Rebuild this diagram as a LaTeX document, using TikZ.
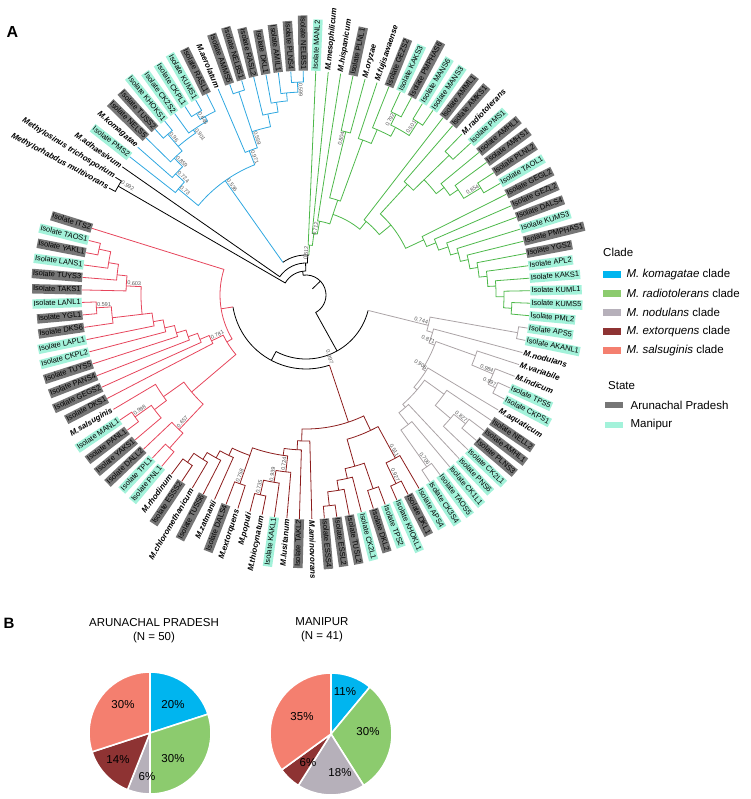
\documentclass[tikz,border=0pt]{standalone}
\usepackage{fontspec}
\setmainfont{Liberation Sans}
\usetikzlibrary{positioning}

\definecolor{cKom}{HTML}{2EA7E0}
\definecolor{cRad}{HTML}{4DB84A}
\definecolor{cNod}{HTML}{ABA3A6}
\definecolor{cExt}{HTML}{8C1D1D}
\definecolor{cSal}{HTML}{E6455C}
\definecolor{pKom}{HTML}{00B5EF}
\definecolor{pRad}{HTML}{8CCB6E}
\definecolor{pNod}{HTML}{B6B0BA}
\definecolor{pExt}{HTML}{8E3333}
\definecolor{pSal}{HTML}{F47F6F}
\definecolor{boxAP}{HTML}{767676}
\definecolor{boxMN}{HTML}{A3F2DA}
\definecolor{bsGray}{HTML}{555555}

% leaf radius, leaf i sits at angle 151.5-3.2*i
\newcommand{\Rl}{224}
% binary node: colour, radius, child A (index, radius), child B (index, radius)
\newcommand{\nd}[6]{%
  \edef\aA{\fpeval{151.5-3.2*(#3)}}\edef\aB{\fpeval{151.5-3.2*(#5)}}%
  \draw[#1] (\aA:#4) -- (\aA:#2) arc[start angle=\aA, end angle=\aB, radius=#2] -- (\aB:#6);}
\newcommand{\rd}[4]{%
  \edef\aA{\fpeval{151.5-3.2*(#2)}}\draw[#1] (\aA:#3) -- (\aA:#4);}
\newcommand{\ac}[4]{%
  \edef\aA{\fpeval{151.5-3.2*(#3)}}\edef\aB{\fpeval{151.5-3.2*(#4)}}%
  \draw[#1] (\aA:#2) arc[start angle=\aA, end angle=\aB, radius=#2];}
% leaf label
\newcommand{\lf}[3]{%
  \edef\ang{\fpeval{151.5-3.2*(#1)}}\edef\rot{\fpeval{151.5-3.2*(#1)+180}}%
  \ifdim\fpeval{abs(\ang)}pt>90pt
    \node[#2, anchor=east, rotate=\rot] (t#1) at (\ang:\Rl) {#3};
  \else
    \node[#2, anchor=west, rotate=\ang] (t#1) at (\ang:\Rl) {#3};
  \fi}
% bootstrap value
\newcommand{\bs}[3]{%
  \edef\ang{\fpeval{151.5-3.2*(#1)}}\edef\rot{\fpeval{151.5-3.2*(#1)+180}}%
  \ifdim\fpeval{abs(\ang)}pt>90pt
    \node[boot, anchor=south west, rotate=\rot] at (\ang:#2) {#3};
  \else
    \node[boot, anchor=south east, rotate=\ang] at (\ang:#2) {#3};
  \fi}

\tikzset{
  lblk/.style={draw=black},
  lkom/.style={draw=cKom},
  lrad/.style={draw=cRad},
  lnod/.style={draw=cNod},
  lext/.style={draw=cExt},
  lsal/.style={draw=cSal},
  ap/.style={fill=boxAP, inner sep=1.1pt, text height=5.6pt, text depth=1.6pt, font=\fontsize{7.5}{8}\selectfont},
  mn/.style={ap, fill=boxMN},
  sp/.style={inner sep=1.1pt, font=\fontsize{8}{9}\selectfont\bfseries\itshape},
  boot/.style={inner sep=0.6pt, text=bsGray, font=\fontsize{5.5}{6}\selectfont},
  leg/.style={inner sep=0pt, font=\fontsize{11.5}{14}\selectfont},
  swatch/.style={minimum width=18pt, minimum height=6.5pt, inner sep=0pt},
  wedge/.style={draw=white, line width=1.6pt, line join=round}
}

\begin{document}
\begin{tikzpicture}[x=1pt, y=1pt]
\useasboundingbox (0,0) rectangle (750,-799);

\node[font=\fontsize{16}{18}\selectfont\bfseries] (pA) at (12.5,-32.5) {A};
\node[font=\fontsize{15}{18}\selectfont\bfseries] (pB) at (9,-623) {B};

% ---- tree
\begin{scope}[shift={(306,-295)}, line width=0.8pt]
  % backbone
  \rd{lblk}{33.6}{9}{20}
  \nd{lblk}{20}{16.7}{24}{66.4}{64}
  \nd{lblk}{24}{0.5}{217}{19}{32}
  \nd{lblk}{217}{0}{\Rl}{1}{\Rl}
  \nd{lblk}{32}{2}{\Rl}{20}{40}
  \ac{lblk}{40}{8.2}{20.5}
  \rd{lkom}{8.2}{40}{140}
  \rd{lrad}{20.5}{40}{50}
  \ac{lblk}{64}{51.7}{84.2}
  \rd{lnod}{51.7}{64}{126}
  \rd{lblk}{84.2}{64}{74}
  \ac{lblk}{74}{69.7}{100.7}
  \rd{lext}{69.7}{74}{134}
  \rd{lsal}{100.7}{74}{86}

  % komagatae clade
  \nd{lkom}{140}{3.5}{166}{12.5}{155}
  \nd{lkom}{166}{3}{\Rl}{4.5}{178}
  \nd{lkom}{178}{4}{\Rl}{5.5}{190}
  \nd{lkom}{190}{5}{\Rl}{6.5}{196}
  \nd{lkom}{196}{6.5}{212}{8.5}{200}
  \nd{lkom}{212}{6}{\Rl}{7}{\Rl}
  \nd{lkom}{200}{8}{\Rl}{10}{205}
  \nd{lkom}{205}{9.5}{212}{11}{\Rl}
  \nd{lkom}{212}{9}{\Rl}{10}{\Rl}
  \nd{lkom}{155}{12}{\Rl}{13.5}{172}
  \nd{lkom}{172}{13.5}{214}{15.5}{185}
  \nd{lkom}{214}{13}{\Rl}{14}{\Rl}
  \nd{lkom}{185}{15}{\Rl}{16.5}{195}
  \nd{lkom}{195}{16}{\Rl}{17.5}{203}
  \nd{lkom}{203}{17}{\Rl}{18.5}{213}
  \nd{lkom}{213}{18}{\Rl}{19}{\Rl}

  % radiotolerans clade
  \nd{lrad}{50}{20}{\Rl}{21.5}{62}
  \nd{lrad}{62}{21}{\Rl}{22.5}{75}
  \nd{lrad}{75}{22}{\Rl}{25}{85}
  \nd{lrad}{85}{25}{100}{31.5}{95}
  \nd{lrad}{100}{23.5}{168}{25.5}{165}
  \nd{lrad}{168}{23}{\Rl}{24}{\Rl}
  \nd{lrad}{165}{25}{\Rl}{26.5}{180}
  \nd{lrad}{180}{26}{\Rl}{28}{190}
  \nd{lrad}{190}{27.5}{202}{29.5}{206}
  \nd{lrad}{202}{27}{\Rl}{28}{\Rl}
  \nd{lrad}{206}{29}{\Rl}{30}{\Rl}
  \nd{lrad}{95}{31}{\Rl}{35}{110}
  \nd{lrad}{110}{32.5}{150}{39.5}{130}
  \nd{lrad}{150}{32}{\Rl}{33.5}{165}
  \nd{lrad}{165}{33.5}{200}{35.5}{175}
  \nd{lrad}{200}{33}{\Rl}{34}{\Rl}
  \nd{lrad}{175}{35}{\Rl}{36.5}{185}
  \nd{lrad}{185}{36}{\Rl}{37.5}{205}
  \nd{lrad}{205}{37}{\Rl}{38}{\Rl}
  \foreach \k/\r/\q in {39/130/140,40/140/150,41/150/158,42/158/166,43/166/174,
                        44/174/182,45/182/190,46/190/198,47/198/206}
    {\nd{lrad}{\r}{\k}{\Rl}{\k+1.5}{\q}}
  \nd{lrad}{206}{48}{\Rl}{49}{\Rl}

  % nodulans clade
  \nd{lnod}{126}{50.5}{215}{52.5}{132}
  \nd{lnod}{215}{50}{\Rl}{51}{\Rl}
  \nd{lnod}{132}{52}{\Rl}{54}{138}
  \nd{lnod}{138}{53.5}{180}{57.5}{142}
  \nd{lnod}{180}{53}{\Rl}{54.5}{203}
  \nd{lnod}{203}{54}{\Rl}{55.5}{211}
  \nd{lnod}{211}{55}{\Rl}{56}{\Rl}
  \nd{lnod}{142}{57}{\Rl}{60}{146}
  \nd{lnod}{146}{58.5}{170}{62.5}{150}
  \nd{lnod}{170}{58}{\Rl}{60}{190}
  \nd{lnod}{190}{59.5}{205}{61}{\Rl}
  \nd{lnod}{205}{59}{\Rl}{60}{\Rl}
  \nd{lnod}{150}{62}{\Rl}{63.5}{165}
  \nd{lnod}{165}{63}{\Rl}{64.5}{210}
  \nd{lnod}{210}{64}{\Rl}{65}{\Rl}

  % extorquens clade
  \nd{lext}{134}{67.5}{150}{76}{146}
  \nd{lext}{150}{66.5}{186}{70.5}{178}
  \nd{lext}{186}{66}{\Rl}{67.5}{209}
  \nd{lext}{209}{67}{\Rl}{68}{\Rl}
  \nd{lext}{178}{69.5}{205}{71.5}{188}
  \nd{lext}{205}{69}{\Rl}{70}{\Rl}
  \nd{lext}{188}{71}{\Rl}{72.5}{198}
  \nd{lext}{198}{72}{\Rl}{73.5}{212}
  \nd{lext}{212}{73}{\Rl}{74}{\Rl}
  \nd{lext}{146}{75}{\Rl}{76.5}{155}
  \nd{lext}{155}{76}{\Rl}{78}{162}
  \nd{lext}{162}{77.5}{178}{81.5}{170}
  \nd{lext}{178}{77}{\Rl}{78.5}{190}
  \nd{lext}{190}{78}{\Rl}{79.5}{205}
  \nd{lext}{205}{79}{\Rl}{80}{\Rl}
  \nd{lext}{170}{81.5}{200}{83.5}{178}
  \nd{lext}{200}{81}{\Rl}{82}{\Rl}
  \foreach \k/\r/\q in {83/178/186,84/186/194,85/194/205}
    {\nd{lext}{\r}{\k}{\Rl}{\k+1.5}{\q}}
  \nd{lext}{205}{86}{\Rl}{87}{\Rl}

  % salsuginis clade
  \nd{lsal}{86}{94}{92}{109}{\Rl}
  \nd{lsal}{92}{91}{150}{95.5}{105}
  \nd{lsal}{150}{89}{185}{92.5}{175}
  \nd{lsal}{185}{88.5}{205}{90}{\Rl}
  \nd{lsal}{205}{88}{\Rl}{89}{\Rl}
  \nd{lsal}{175}{92}{190}{94}{\Rl}
  \nd{lsal}{190}{91}{\Rl}{92.5}{210}
  \nd{lsal}{210}{92}{\Rl}{93}{\Rl}
  \foreach \k/\r/\q in {95/105/115,96/115/125,97/125/135,98/135/145,99/145/155,100/155/165}
    {\nd{lsal}{\r}{\k}{\Rl}{\k+1.5}{\q}}
  \nd{lsal}{165}{101.5}{195}{104.5}{180}
  \nd{lsal}{195}{101}{\Rl}{102.5}{210}
  \nd{lsal}{210}{102}{\Rl}{103}{\Rl}
  \foreach \k/\r/\q in {104/180/190,105/190/200,106/200/212}
    {\nd{lsal}{\r}{\k}{\Rl}{\k+1.5}{\q}}
  \nd{lsal}{212}{107}{\Rl}{108}{\Rl}

  % bootstrap values
  \bs{0.7}{217}{0.992}
  \bs{3.5}{166}{0.73}   \bs{4.5}{178}{0.724}  \bs{5.5}{190}{0.859}
  \bs{6.5}{212}{0.96}   \bs{8.5}{200}{0.901}  \bs{9.5}{212}{0.645}
  \bs{8.2}{140}{0.536}  \bs{12.5}{155}{0.971} \bs{13.5}{172}{0.559}
  \bs{18.5}{213}{0.599}
  \bs{20.5}{50}{0.512}  \bs{22.5}{75}{0.712}  \bs{23.5}{168}{0.804}
  \bs{27.5}{202}{0.792} \bs{29.5}{206}{0.501} \bs{37.5}{205}{0.854}
  \bs{51.7}{126}{0.744} \bs{54}{138}{0.871}   \bs{57.5}{142}{0.906}
  \bs{54.5}{203}{0.984} \bs{55.5}{211}{0.997} \bs{59.5}{205}{0.827}
  \bs{64.5}{210}{0.706}
  \bs{69.7}{74}{0.997}
  \bs{66.5}{186}{0.511} \bs{67.5}{209}{0.927} \bs{77.5}{178}{0.724}
  \bs{78.5}{190}{0.939} \bs{79.5}{205}{0.735} \bs{81.5}{200}{0.758}
  \bs{89}{185}{0.657}   \bs{92.5}{210}{0.998} \bs{95.5}{105}{0.781}
  \bs{102.5}{210}{0.591} \bs{104.5}{180}{0.603}

  % leaves
  \foreach \n/\sty/\lab in {
    0/sp/Methylorhabdus multivorans, 1/sp/Methylosinus trichosporium,
    2/sp/M.adhaesivum, 3/mn/Isolate PMS2, 4/sp/M.komagatae, 5/ap/Isolate NELS5,
    6/ap/Isolate TUSS2, 7/mn/Isolate KHOKS1, 8/mn/Isolate CK2S2, 9/mn/Isolate CKPL1,
    10/mn/Isolate KUMS1, 11/ap/Isolate RASL1, 12/sp/M.aerolatum, 13/ap/Isolate AMMS5,
    14/ap/Isolate NELBS1, 15/ap/Isolate RASL2, 16/ap/Isolate DKL1, 17/ap/Isolate AMIL1,
    18/ap/Isolate PLNS4, 19/ap/Isolate NELBS1,
    20/mn/Isolate MANL2, 21/sp/M.mesophilicum, 22/sp/M.hispanicum, 23/ap/Isolate PLNL1,
    24/sp/M.oryzae, 25/sp/M.fujisawaense, 26/ap/Isolate GEZS2, 27/mn/Isolate KAKS3,
    28/ap/Isolate PMPHAS6, 29/mn/Isolate MANS6, 30/mn/Isolate MANS3, 31/ap/Isolate AMML1,
    32/ap/Isolate AMKS1, 33/sp/M.radiotolerans, 34/mn/Isolate PMS1, 35/ap/Isolate AMHL1,
    36/ap/Isolate AMHS1, 37/ap/Isolate PLNL2, 38/mn/Isolate TAOL1, 39/ap/Isolate GEGL2,
    40/ap/Isolate GEZL2, 41/ap/Isolate DALS4, 42/mn/Isolate KUMS3, 43/ap/Isolate PMPHAS1,
    44/ap/Isolate YGS2, 45/mn/Isolate APL2, 46/mn/Isolate KAKS1, 47/mn/Isolate KUML1,
    48/mn/Isolate KUMS5, 49/mn/Isolate PML2,
    50/mn/Isolate APS5, 51/mn/Isolate AKANL1, 52/sp/M.nodulans, 53/sp/M.variabile,
    54/sp/M.indicum, 55/mn/Isolate TPS5, 56/mn/Isolate CKPS1, 57/sp/M.aquaticum,
    58/ap/Isolate NELL2, 59/ap/Isolate AMHL1, 60/ap/Isolate PLNS3, 61/mn/Isolate CK2L1,
    62/mn/Isolate PNS6, 63/mn/Isolate CK1L1, 64/mn/Isolate TAOS5, 65/mn/Isolate CK3S4,
    66/mn/Isolate APS4, 67/ap/Isolate DKL1, 68/mn/Isolate KHOKL1, 69/mn/Isolate TPS2,
    70/ap/Isolate DKL2, 71/mn/Isolate CK2L1, 72/ap/Isolate TUSL2, 73/ap/Isolate ESSL2,
    74/ap/Isolate ESSS4, 75/sp/M.aminovorans, 76/ap/Isolate TAKL2, 77/sp/M.lusitanum,
    78/mn/Isolate KAKL1, 79/sp/M.thiocynatum, 80/sp/M.populi, 81/sp/M.extorquens,
    82/ap/Isolate DALS4, 83/sp/M.zatmanii, 84/ap/Isolate TUSS6, 85/sp/M.chloromethanicum,
    86/ap/Isolate ESSS2, 87/sp/M.rhodinum,
    88/mn/Isolate PNL1, 89/mn/Isolate TPL1, 90/ap/Isolate DALL2, 91/ap/Isolate YAKS1,
    92/ap/Isolate PANL1, 93/mn/Isolate MANL1, 94/sp/M.salsuginis, 95/ap/Isolate DKS1,
    96/ap/Isolate GEGS2, 97/ap/Isolate PANS4, 98/ap/Isolate TUYS5, 99/mn/Isolate CKPL2,
    100/mn/Isolate LAPL1, 101/ap/Isolate DKS6, 102/ap/Isolate YGL1, 103/mn/Isolate LANL1,
    104/ap/Isolate TAKS1, 105/ap/Isolate TUYS3, 106/mn/Isolate LANS1, 107/ap/Isolate YAKL1,
    108/mn/Isolate TAOS1, 109/ap/Isolate ITS2}
    {\lf{\n}{\sty}{\lab}}
\end{scope}

% ---- legend
\node[leg, anchor=west] (clade) at (603,-252) {Clade};
\node[swatch, fill=pKom, anchor=west] (k1) at (603,-274.3) {};
\node[leg, right=5pt of k1] (lk1) {\textit{M. komagatae} clade};
\node[swatch, fill=pRad, anchor=west] (k2) at (603,-293.3) {};
\node[leg, right=5pt of k2] (lk2) {\textit{M. radiotolerans} clade};
\node[swatch, fill=pNod, anchor=west] (k3) at (603,-312.7) {};
\node[leg, right=5pt of k3] (lk3) {\textit{M. nodulans} clade};
\node[swatch, fill=pExt, anchor=west] (k4) at (603,-331.7) {};
\node[leg, right=5pt of k4] (lk4) {\textit{M. extorquens} clade};
\node[swatch, fill=pSal, anchor=west] (k5) at (603,-350.7) {};
\node[leg, right=5pt of k5] (lk5) {\textit{M. salsuginis} clade};
\node[leg, anchor=west] (state) at (608,-385.7) {State};
\node[swatch, fill=boxAP, anchor=west] (k6) at (605,-405) {};
\node[leg, right=7pt of k6] (lk6) {Arunachal Pradesh};
\node[swatch, fill=boxMN, anchor=west] (k7) at (605,-425) {};
\node[leg, right=7pt of k7] (lk7) {Manipur};

% ---- pies
\node[leg, align=center] (tAP) at (154,-631) {ARUNACHAL PRADESH\\(N = 50)};
\node[leg, align=center] (tMN) at (322,-629.5) {MANIPUR\\(N = 41)};
\begin{scope}[shift={(150,-733)}]
  \foreach \a/\b/\c in {90/18/pKom, 18/-90/pRad, -90/-111.6/pNod, -111.6/-162/pExt, -162/-270/pSal}
    \filldraw[wedge, fill=\c] (0,0) -- (\a:61) arc[start angle=\a, end angle=\b, radius=61] -- cycle;
\end{scope}
\begin{scope}[shift={(331,-734)}]
  \foreach \a/\b/\c in {90/50.4/pKom, 50.4/-57.6/pRad, -57.6/-122.4/pNod, -122.4/-144/pExt, -144/-270/pSal}
    \filldraw[wedge, fill=\c] (0,0) -- (\a:61) arc[start angle=\a, end angle=\b, radius=61] -- cycle;
\end{scope}
\node[leg] (a1) at (173,-705) {20\%};
\node[leg] (a2) at (173,-759) {30\%};
\node[leg] (a3) at (147,-777) {6\%};
\node[leg] (a4) at (118,-760) {14\%};
\node[leg] (a5) at (123,-705) {30\%};
\node[leg] (m1) at (345,-692) {11\%};
\node[leg] (m2) at (368,-732) {30\%};
\node[leg] (m3) at (340,-773) {18\%};
\node[leg] (m4) at (308,-763) {6\%};
\node[leg] (m5) at (302,-717) {35\%};
\end{tikzpicture}
\end{document}
